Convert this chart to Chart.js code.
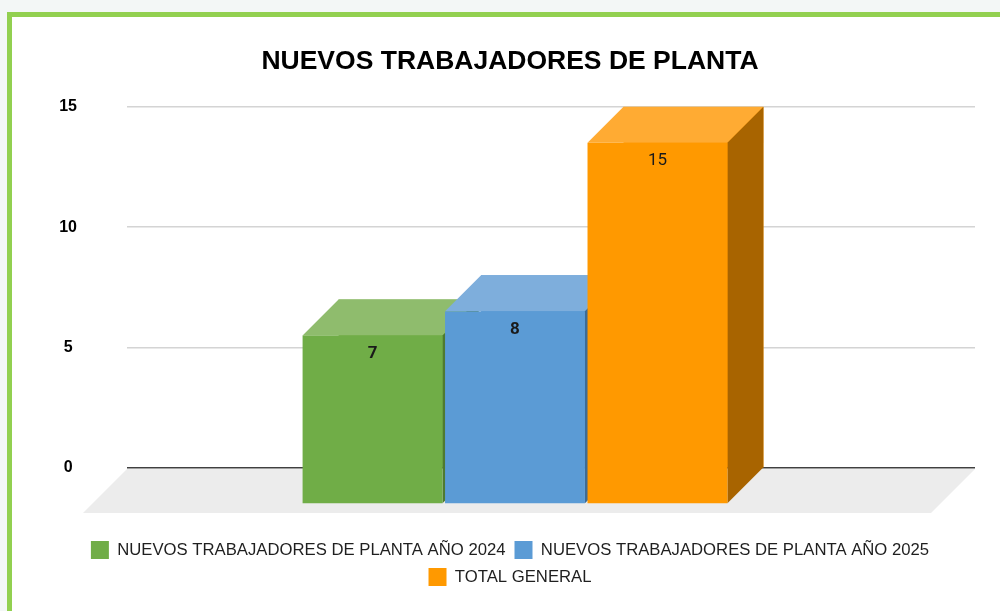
<!DOCTYPE html>
<html>
<head>
<meta charset="utf-8">
<script src="https://cdn.jsdelivr.net/npm/chart.js@4/dist/chart.umd.min.js"></script>
<style>
  html, body { margin: 0; padding: 0; width: 1000px; height: 611px; overflow: hidden; background: #f3f7f6; }
  #marco { position: absolute; left: 7px; top: 12px; width: 1010px; height: 620px;
           border-left: 5px solid #92d050; border-top: 5px solid #92d050; background: #fff; }
  #grafico { position: absolute; left: 0; top: 0; }
</style>
</head>
<body>
<div id="marco"></div>
<canvas id="grafico" width="1000" height="611"></canvas>
<script>
// Datos del gráfico
const categorias = [''];
const series = [
    'NUEVOS TRABAJADORES DE PLANTA AÑO 2024',
    'NUEVOS TRABAJADORES DE PLANTA AÑO 2025',
    'TOTAL GENERAL'
];
const valores2024 = [7];
const valores2025 = [8];
const totalGeneral = [15];
const ticksY = [0, 5, 10, 15];

const FONDO = 36;      // profundidad de las barras 3D
const FONDO_PISO = 44; // profundidad del piso

// colores: frente, tapa, lateral
const colores = [
    { frente: '#70ad47', tapa: '#8fbc6d', lado: '#4e7a31' },
    { frente: '#5b9bd5', tapa: '#7eaedc', lado: '#3d6c96' },
    { frente: '#ff9900', tapa: '#ffab33', lado: '#a86400' }
];

// Dibuja el piso gris debajo de las barras
const pluginPiso = {
    id: 'piso',
    beforeDatasetsDraw(chart) {
        const ctx = chart.ctx;
        const area = chart.chartArea;
        const y0 = chart.scales.y.getPixelForValue(0) + 1;
        ctx.save();
        ctx.fillStyle = '#ececec';
        ctx.beginPath();
        ctx.moveTo(area.left, y0);
        ctx.lineTo(area.right, y0);
        ctx.lineTo(area.right - FONDO_PISO, y0 + FONDO_PISO);
        ctx.lineTo(area.left - FONDO_PISO, y0 + FONDO_PISO);
        ctx.closePath();
        ctx.fill();
        ctx.restore();
    }
};

// Caras 3D (tapa, lateral y frente) a partir de cada barra
const pluginBarras3D = {
    id: 'barras3d',
    afterDatasetsDraw(chart) {
        const ctx = chart.ctx;
        ctx.save();
        chart.data.datasets.forEach((ds, i) => {
            const meta = chart.getDatasetMeta(i);
            const c = colores[i];
            meta.data.forEach((el) => {
                const izq = el.x - el.width / 2;
                const der = el.x + el.width / 2;
                const arriba = el.y;
                const base = el.base;

                // tapa
                ctx.fillStyle = c.tapa;
                ctx.beginPath();
                ctx.moveTo(izq - FONDO, arriba + FONDO);
                ctx.lineTo(izq, arriba);
                ctx.lineTo(der, arriba);
                ctx.lineTo(der - FONDO, arriba + FONDO);
                ctx.closePath();
                ctx.fill();

                // lateral
                ctx.fillStyle = c.lado;
                ctx.beginPath();
                ctx.moveTo(der - FONDO, arriba + FONDO);
                ctx.lineTo(der, arriba);
                ctx.lineTo(der, base);
                ctx.lineTo(der - FONDO, base + FONDO);
                ctx.closePath();
                ctx.fill();

                // frente
                ctx.fillStyle = c.frente;
                ctx.fillRect(izq - FONDO, arriba + FONDO, der - izq, base - arriba);

                // etiqueta de valor
                ctx.fillStyle = '#1a1a1a';
                ctx.font = (ds.pesoEtiqueta || 'bold') + ' 17px Roboto';
                ctx.textAlign = 'center';
                ctx.textBaseline = 'middle';
                ctx.fillText(String(ds.data[0]), el.x - FONDO, arriba + FONDO + 18);
            });
        });
        ctx.restore();
    }
};

const ctx = document.getElementById('grafico').getContext('2d');
const grafico = new Chart(ctx, {
    type: 'bar',
    data: {
        labels: categorias,
        datasets: [
            { label: series[0], data: valores2024, backgroundColor: colores[0].frente, pesoEtiqueta: 'bold' },
            { label: series[1], data: valores2025, backgroundColor: colores[1].frente, pesoEtiqueta: 'bold' },
            { label: series[2], data: totalGeneral, backgroundColor: colores[2].frente, pesoEtiqueta: 'normal' }
        ]
    },
    options: {
        responsive: false,
        animation: false,
        categoryPercentage: 0.504,
        barPercentage: 0.982,
        layout: { padding: { left: 45, right: 25, top: 0, bottom: 15 } },
        plugins: {
            tooltip: { enabled: false },
            title: {
                display: true,
                text: 'NUEVOS TRABAJADORES DE PLANTA',
                color: '#000',
                font: { family: 'Liberation Sans', size: 26.5, weight: 'bold' },
                padding: { top: 46, bottom: 29 }
            },
            legend: {
                position: 'bottom',
                labels: {
                    color: '#1f1f1f',
                    font: { family: 'Liberation Sans', size: 16.7 },
                    boxWidth: 18,
                    boxHeight: 18,
                    padding: 9
                }
            }
        },
        scales: {
            x: {
                grid: { display: false },
                border: { display: false },
                ticks: { display: false },
                afterFit: (s) => { s.height = 64; }
            },
            y: {
                min: 0,
                max: 15,
                afterBuildTicks: (s) => { s.ticks = ticksY.map(v => ({ value: v })); },
                afterFit: (s) => { s.width = 82; },
                border: { display: false },
                grid: {
                    drawTicks: false,
                    color: (c) => c.tick.value === 0 ? '#404040' : '#d4d4d4',
                    lineWidth: 1.5
                },
                ticks: {
                    crossAlign: 'center',
                    padding: 50,
                    color: '#000',
                    font: { family: 'Liberation Sans', size: 16, weight: 'bold' }
                }
            }
        }
    },
    plugins: [pluginPiso, pluginBarras3D]
});
</script>
</body>
</html>
